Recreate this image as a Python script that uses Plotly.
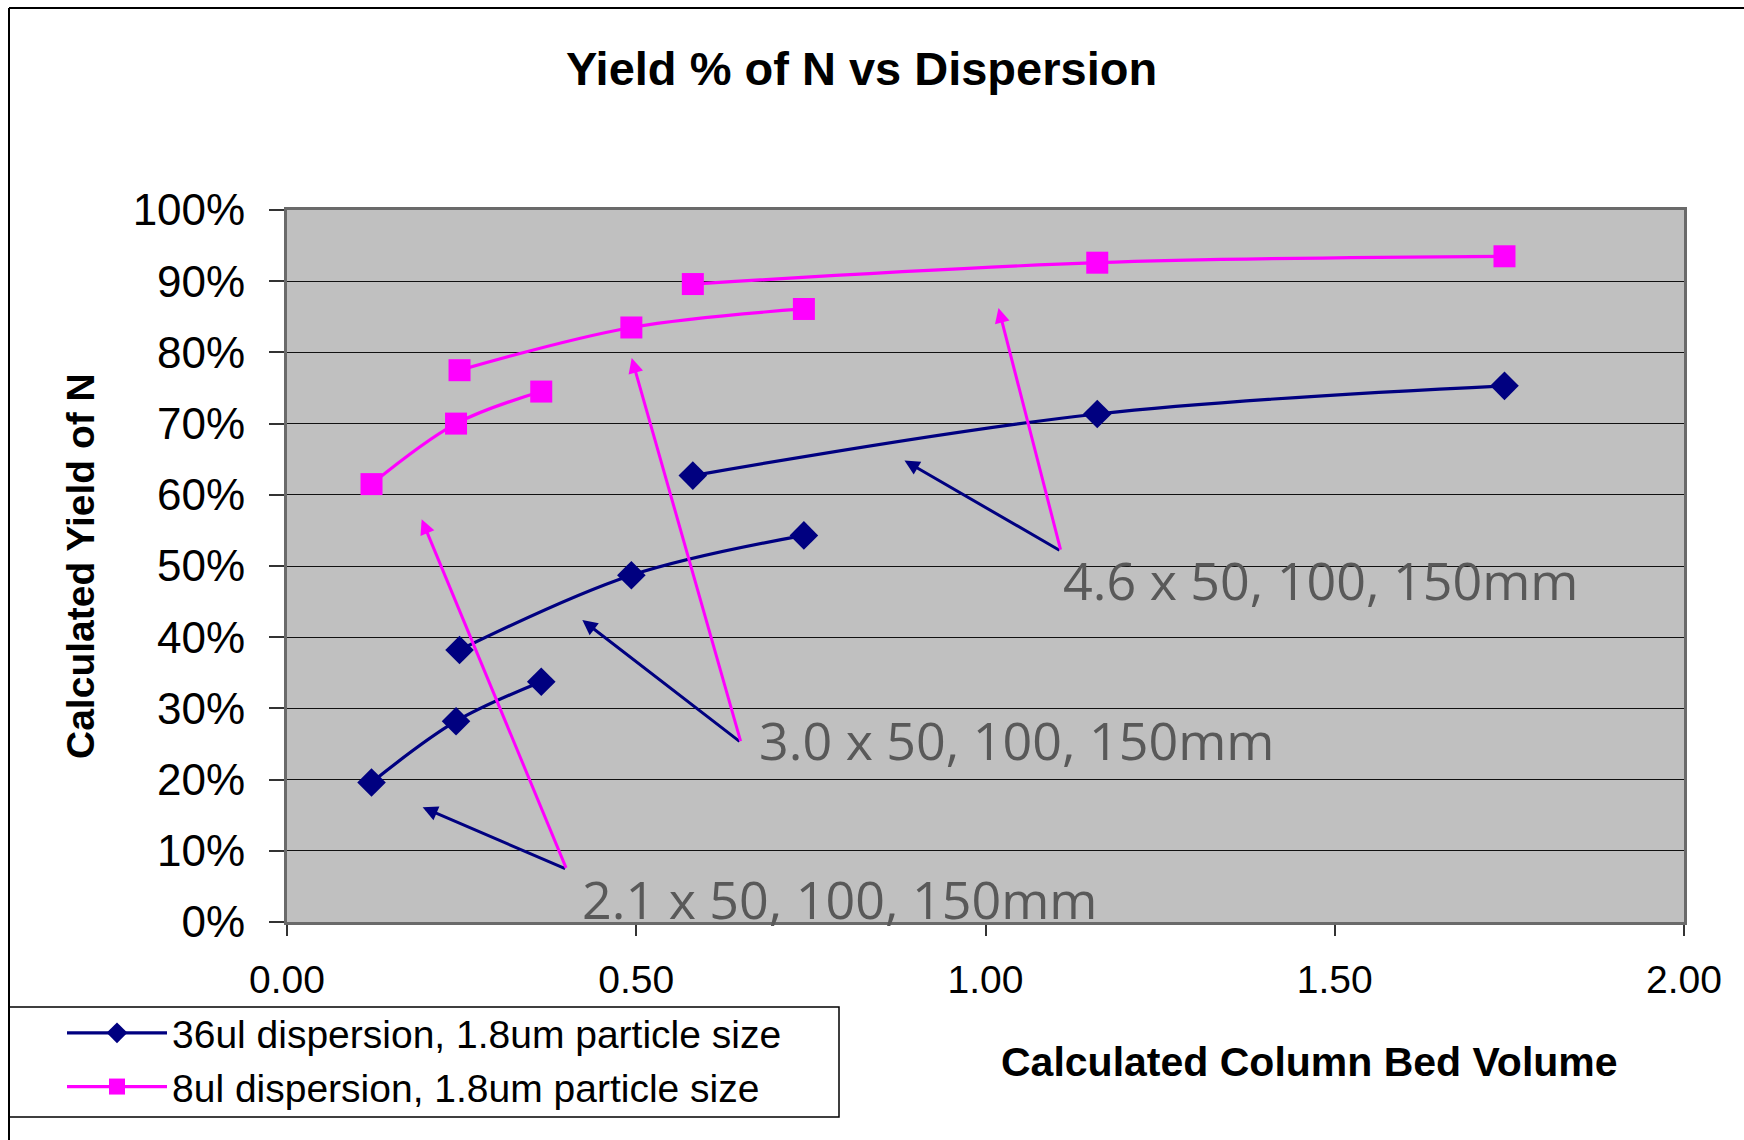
import plotly.graph_objects as go

# ---------------- data ----------------
bed_volume = [0.121, 0.242, 0.364, None, 0.247, 0.493, 0.740, None, 0.581, 1.160, 1.743]
yield_36ul = [0.196, 0.282, 0.3375, None, 0.382, 0.487, 0.543, None, 0.627, 0.7135, 0.753]
yield_8ul = [0.615, 0.700, 0.745, None, 0.775, 0.835, 0.861, None, 0.896, 0.926, 0.935]
series_names = ["36ul dispersion, 1.8um particle size", "8ul dispersion, 1.8um particle size"]
column_labels = ["2.1 x 50, 100, 150mm", "3.0 x 50, 100, 150mm", "4.6 x 50, 100, 150mm"]
y_tick_vals = [0.0, 0.1, 0.2, 0.3, 0.4, 0.5, 0.6, 0.7, 0.8, 0.9, 1.0]
x_tick_vals = [0.0, 0.5, 1.0, 1.5, 2.0]

NAVY = "#000080"
MAGENTA = "#FF00FF"

W, H = 1744, 1140
L, R, T, B = 287, 1684, 210, 922


def px(x):
    return (x - L) / (R - L)


def py(y):
    return (B - y) / (B - T)


fig = go.Figure()
fig.add_trace(go.Scatter(
    x=bed_volume, y=yield_36ul, name=series_names[0], mode="lines+markers",
    line=dict(color=NAVY, width=3.2, shape="spline", smoothing=1),
    marker=dict(symbol="diamond", size=22, color=NAVY),
))
fig.add_trace(go.Scatter(
    x=bed_volume, y=yield_8ul, name=series_names[1], mode="lines+markers",
    line=dict(color=MAGENTA, width=3.2, shape="spline", smoothing=1),
    marker=dict(symbol="square", size=22, color=MAGENTA),
))

annotations = []
# chart title
annotations.append(dict(text="<b>Yield % of N vs Dispersion</b>", xref="paper", yref="paper",
                        x=px(861), y=py(69), xanchor="center", yanchor="middle", showarrow=False,
                        font=dict(family="Liberation Sans, Arial", size=47, color="black")))
# axis titles
annotations.append(dict(text="<b>Calculated Yield of N</b>", xref="paper", yref="paper",
                        x=px(80), y=py(566), xanchor="center", yanchor="middle", showarrow=False,
                        textangle=-90,
                        font=dict(family="Liberation Sans, Arial", size=39, color="black")))
annotations.append(dict(text="<b>Calculated Column Bed Volume</b>", xref="paper", yref="paper",
                        x=px(1309), y=py(1062), xanchor="center", yanchor="middle", showarrow=False,
                        font=dict(family="Liberation Sans, Arial", size=41, color="black")))

# column size labels
label_pos = [(0.4190, 0.0328), (0.6724, 0.2561), (1.1076, 0.4811)]
for txt, (lx, ly) in zip(column_labels, label_pos):
    annotations.append(dict(text=txt, xref="x", yref="y", x=lx, y=ly, xanchor="left", yanchor="middle",
                            showarrow=False,
                            font=dict(family="Open Sans", size=52, color="#595959")))

# callout arrows (tail -> head)
arrows = [
    ((0.4004, 0.074), (0.1942, 0.161), NAVY),
    ((0.4004, 0.074), (0.1928, 0.5656), MAGENTA),
    ((0.650, 0.252), (0.4228, 0.424), NAVY),
    ((0.650, 0.252), (0.4935, 0.792), MAGENTA),
    ((1.108, 0.521), (0.884, 0.648), NAVY),
    ((1.108, 0.521), (1.0186, 0.8625), MAGENTA),
]
for (tx, ty), (hx, hy), col in arrows:
    annotations.append(dict(text="", xref="x", yref="y", x=hx, y=hy, axref="x", ayref="y", ax=tx, ay=ty,
                            showarrow=True, arrowhead=2, arrowsize=1, arrowwidth=3, arrowcolor=col,
                            standoff=0, startstandoff=0))

shapes = [
    # outer frame (top and left)
    dict(type="line", xref="paper", yref="paper", x0=px(9), x1=px(1744), y0=py(8), y1=py(8),
         line=dict(color="black", width=2)),
    dict(type="line", xref="paper", yref="paper", x0=px(9), x1=px(9), y0=py(8), y1=py(1140),
         line=dict(color="black", width=2)),
    # legend box
    dict(type="rect", xref="paper", yref="paper", x0=px(9), x1=px(839), y0=py(1007), y1=py(1117),
         line=dict(color="black", width=1.5), fillcolor="white", layer="below"),
]

fig.update_layout(
    width=W, height=H,
    margin=dict(l=L, r=W - R, t=T, b=H - B, pad=0),
    paper_bgcolor="white",
    plot_bgcolor="#C0C0C0",
    showlegend=True,
    legend=dict(x=px(62), y=py(1001), xanchor="left", yanchor="top",
                bgcolor="rgba(0,0,0,0)", borderwidth=0, itemwidth=100,
                font=dict(family="Liberation Sans, Arial", size=39, color="black"),
                tracegroupgap=0),
    annotations=annotations,
    shapes=shapes,
    xaxis=dict(range=[0, 2], tickvals=x_tick_vals, tickformat=".2f", showgrid=False, zeroline=False,
               showline=True, linecolor="#6a6a6a", linewidth=3, mirror=True,
               ticks="outside", ticklen=11, tickwidth=1.5, tickcolor="#333333",
               ticklabelstandoff=10,
               tickfont=dict(family="Liberation Sans, Arial", size=39, color="black")),
    yaxis=dict(range=[0, 1], tickvals=y_tick_vals, tickformat=".0%", showgrid=True,
               gridcolor="#111111", gridwidth=1, zeroline=False,
               showline=True, linecolor="#6a6a6a", linewidth=3, mirror=True,
               ticks="outside", ticklen=15, tickwidth=1.5, tickcolor="#333333",
               ticklabelstandoff=15,
               tickfont=dict(family="Liberation Sans, Arial", size=44, color="black")),
)

fig.write_html("out.html")
